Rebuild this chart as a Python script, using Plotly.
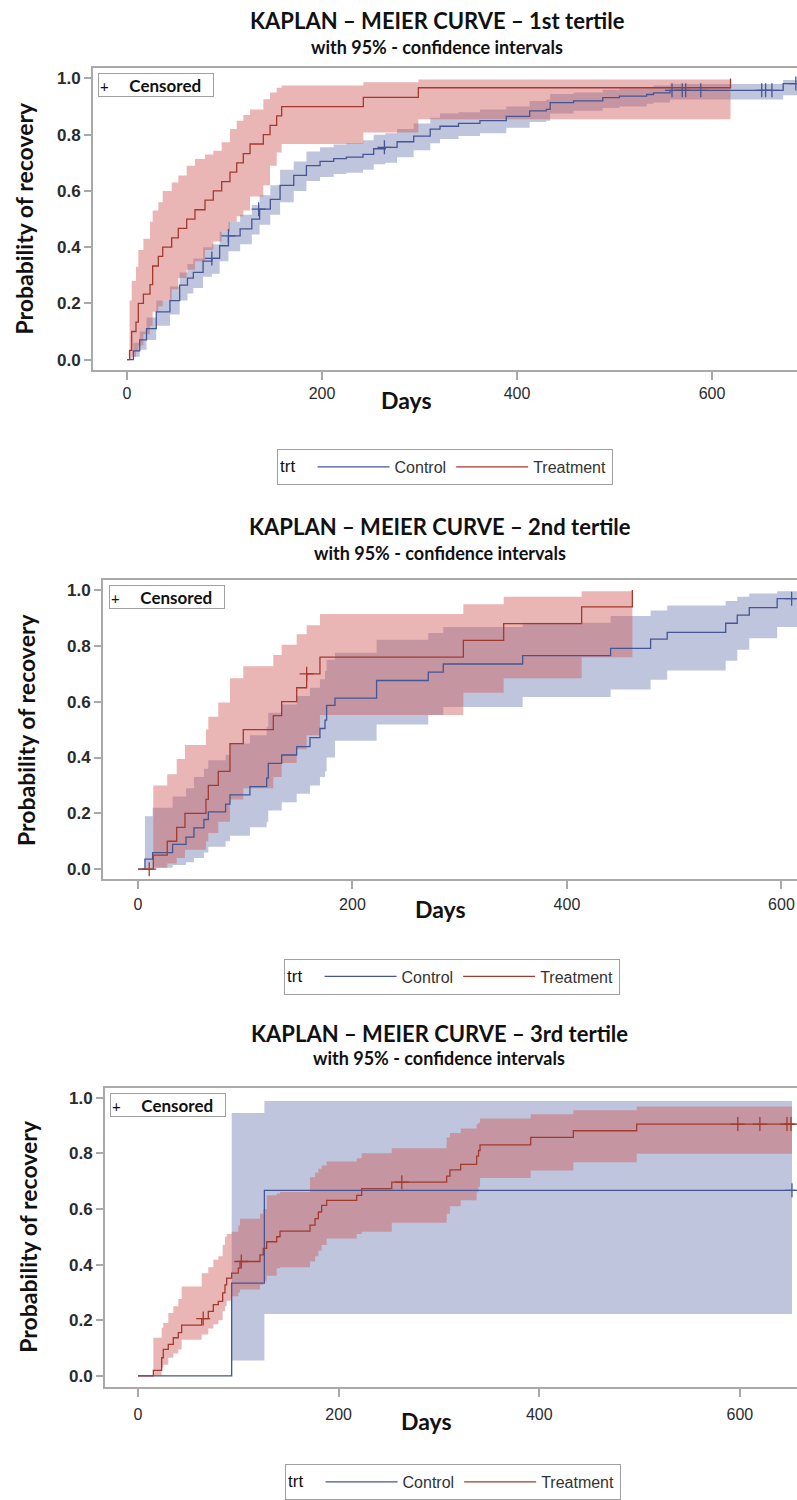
import plotly.graph_objects as go

W, H = 797, 1500

# ---------------- 1st tertile ----------------
t1_ctrl_time = [0, 6.5, 13, 20, 30, 44, 54, 62, 68, 78, 87, 95, 104, 116, 128, 136, 147, 157, 171, 184,
                198, 212, 225, 242, 253, 265, 277, 294, 311, 321, 340, 362, 389, 413, 430, 434, 458, 488,
                505, 533, 540, 557, 673, 690]
t1_ctrl_surv = [0, 0.031, 0.07, 0.11, 0.17, 0.21, 0.265, 0.29, 0.31, 0.35, 0.36, 0.405, 0.44, 0.465, 0.50,
                0.535, 0.57, 0.62, 0.655, 0.69, 0.705, 0.715, 0.72, 0.73, 0.75, 0.755, 0.775, 0.795, 0.82,
                0.83, 0.84, 0.85, 0.865, 0.885, 0.89, 0.914, 0.92, 0.932, 0.937, 0.943, 0.949, 0.958, 0.982,
                0.982]
t1_ctrl_lo = [0, 0.01, 0.035, 0.07, 0.12, 0.16, 0.21, 0.235, 0.255, 0.295, 0.305, 0.35, 0.385, 0.41, 0.445,
              0.48, 0.515, 0.56, 0.60, 0.635, 0.65, 0.66, 0.665, 0.675, 0.695, 0.70, 0.72, 0.745, 0.77, 0.785,
              0.795, 0.805, 0.825, 0.845, 0.85, 0.875, 0.885, 0.895, 0.90, 0.91, 0.915, 0.925, 0.94, 0.94]
t1_ctrl_hi = [0, 0.06, 0.10, 0.15, 0.21, 0.26, 0.31, 0.34, 0.36, 0.40, 0.41, 0.455, 0.49, 0.515, 0.55,
              0.585, 0.62, 0.675, 0.705, 0.74, 0.755, 0.765, 0.77, 0.78, 0.80, 0.805, 0.82, 0.84, 0.86, 0.875,
              0.88, 0.89, 0.90, 0.92, 0.925, 0.945, 0.95, 0.96, 0.965, 0.97, 0.975, 0.98, 0.995, 0.995]
t1_ctrl_cens_time = [87, 104, 135, 264, 559, 569.5, 573, 588.5, 651, 655, 661.5, 686]
t1_ctrl_cens_surv = [0.36, 0.44, 0.535, 0.755, 0.958, 0.958, 0.958, 0.958, 0.958, 0.958, 0.958, 0.982]

t1_trt_time = [0, 2.6, 4.8, 9.2, 11.6, 16.8, 23.6, 26.3, 32.1, 36.6, 45.8, 52.6, 61.2, 69.7, 80, 88.5, 97.1,
               105.6, 112.5, 119.3, 126.2, 139.8, 146.7, 153.5, 158.6, 242.4, 298.8, 619]
t1_trt_surv = [0, 0.033, 0.10, 0.133, 0.20, 0.233, 0.267, 0.333, 0.367, 0.40, 0.433, 0.467, 0.50, 0.533,
               0.567, 0.60, 0.633, 0.667, 0.70, 0.733, 0.767, 0.80, 0.833, 0.867, 0.90, 0.933, 0.967, 1.0]
t1_trt_band_time = [2.6, 4.8, 9.2, 11.6, 16.8, 23.6, 26.3, 32.1, 36.6, 45.8, 52.6, 61.2, 69.7, 80, 88.5, 97.1,
                    105.6, 112.5, 119.3, 126.2, 139.8, 146.7, 153.5, 158.6, 242.4, 298.8, 619]
t1_trt_lo = [0.0, 0.01, 0.03, 0.05, 0.09, 0.12, 0.17, 0.19, 0.21, 0.25, 0.29, 0.32, 0.35, 0.39, 0.42, 0.455,
             0.49, 0.51, 0.53, 0.58, 0.62, 0.69, 0.737, 0.767, 0.808, 0.855, 0.855]
t1_trt_hi = [0.21, 0.28, 0.33, 0.39, 0.43, 0.49, 0.53, 0.56, 0.60, 0.63, 0.655, 0.69, 0.714, 0.73, 0.743,
             0.773, 0.82, 0.85, 0.87, 0.89, 0.926, 0.95, 0.967, 0.975, 0.987, 0.996, 0.996]
t1_trt_cens_time = []
t1_trt_cens_surv = []

# ---------------- 2nd tertile ----------------
t2_ctrl_time = [0, 6.5, 13.7, 32.3, 44.8, 52.2, 61.5, 65.6, 81.7, 85.8, 104.4, 120, 121.5, 134, 148, 160.4,
                169.7, 174.4, 175.9, 183.7, 222.5, 270.7, 284.7, 358.7, 440.7, 478, 493.5, 548, 558.8, 570,
                596, 615]
t2_ctrl_surv = [0, 0.036, 0.059, 0.089, 0.115, 0.148, 0.178, 0.205, 0.233, 0.266, 0.296, 0.326, 0.379,
                0.409, 0.439, 0.471, 0.504, 0.534, 0.587, 0.613, 0.676, 0.706, 0.735, 0.765, 0.791, 0.824,
                0.848, 0.881, 0.910, 0.937, 0.969, 0.969]
t2_ctrl_band_time = [6.5, 13.7, 32.3, 44.8, 52.2, 61.5, 65.6, 81.7, 85.8, 104.4, 120, 121.5, 134, 148, 160.4,
                     169.7, 174.4, 175.9, 183.7, 222.5, 270.7, 284.7, 358.7, 440.7, 478, 493.5, 548, 558.8,
                     570, 596, 615]
t2_ctrl_lo = [0.0, 0.005, 0.015, 0.025, 0.04, 0.06, 0.08, 0.10, 0.12, 0.15, 0.17, 0.21, 0.24, 0.27, 0.30,
              0.33, 0.35, 0.40, 0.46, 0.518, 0.552, 0.581, 0.617, 0.644, 0.679, 0.712, 0.747, 0.786, 0.827,
              0.868, 0.868]
t2_ctrl_hi = [0.19, 0.22, 0.26, 0.29, 0.33, 0.36, 0.39, 0.41, 0.45, 0.48, 0.51, 0.56, 0.59, 0.62, 0.65,
              0.68, 0.71, 0.75, 0.775, 0.822, 0.846, 0.868, 0.883, 0.907, 0.927, 0.945, 0.961, 0.976, 0.988,
              0.996, 0.996]
t2_ctrl_cens_time = [609.5]
t2_ctrl_cens_surv = [0.969]

t2_trt_time = [0, 14.3, 27.3, 36.1, 43.8, 63.4, 65.6, 74.9, 85.8, 98.2, 126.2, 134, 148, 157.3, 169.7,
               303.4, 341, 413.7, 461]
t2_trt_surv = [0, 0.05, 0.10, 0.15, 0.20, 0.25, 0.30, 0.35, 0.45, 0.50, 0.55, 0.60, 0.65, 0.70, 0.76,
               0.82, 0.88, 0.94, 1.0]
t2_trt_band_time = [14.3, 27.3, 36.1, 43.8, 63.4, 65.6, 74.9, 85.8, 98.2, 126.2, 134, 148, 157.3, 169.7,
                    303.4, 341, 413.7, 461]
t2_trt_lo = [0.005, 0.02, 0.04, 0.07, 0.10, 0.13, 0.17, 0.25, 0.29, 0.33, 0.38, 0.43, 0.48, 0.552, 0.632,
             0.684, 0.759, 0.759]
t2_trt_hi = [0.30, 0.34, 0.395, 0.445, 0.50, 0.546, 0.597, 0.684, 0.727, 0.767, 0.804, 0.842, 0.874, 0.914,
             0.949, 0.976, 0.996, 0.996]
t2_trt_cens_time = [10.5, 157.3]
t2_trt_cens_surv = [0.0, 0.70]

# ---------------- 3rd tertile ----------------
t3_ctrl_time = [0, 93.4, 126, 660]
t3_ctrl_surv = [0, 0.333, 0.667, 0.667]
t3_ctrl_band_time = [93.4, 126, 652]
t3_ctrl_lo = [0.055, 0.222, 0.222]
t3_ctrl_hi = [0.945, 0.988, 0.988]
t3_ctrl_cens_time = [652]
t3_ctrl_cens_surv = [0.667]

t3_trt_time = [0, 15.3, 23.6, 25.2, 30.2, 35.2, 40.2, 43.5, 63.5, 70.1, 75.1, 80.1, 84.4, 86.7, 88.4, 93.4,
               100, 101.7, 121.6, 124.9, 128.3, 138.3, 141.6, 171.5, 176.5, 179.8, 183.1, 188.1, 218, 223,
               253, 307.7, 311, 321.7, 337.6, 339.5, 341, 391.5, 434, 497.2, 656]
t3_trt_surv = [0, 0.02, 0.065, 0.095, 0.113, 0.137, 0.155, 0.182, 0.206, 0.232, 0.256, 0.268, 0.298, 0.327,
               0.351, 0.369, 0.387, 0.411, 0.435, 0.458, 0.482, 0.50, 0.52, 0.542, 0.565, 0.589, 0.613,
               0.631, 0.649, 0.673, 0.696, 0.718, 0.74, 0.76, 0.79, 0.81, 0.83, 0.857, 0.881, 0.905, 0.905]
t3_trt_band_time = [15.3, 23.6, 25.2, 30.2, 35.2, 40.2, 43.5, 63.5, 70.1, 75.1, 80.1, 84.4, 86.7, 88.4,
                    93.4, 100, 101.7, 121.6, 124.9, 128.3, 138.3, 141.6, 171.5, 176.5, 179.8, 183.1, 188.1,
                    218, 223, 253, 307.7, 311, 321.7, 337.6, 339.5, 341, 391.5, 434, 497.2, 652]
t3_trt_lo = [0.0, 0.03, 0.04, 0.065, 0.08, 0.095, 0.13, 0.149, 0.17, 0.185, 0.20, 0.232, 0.25, 0.27, 0.286,
             0.30, 0.31, 0.327, 0.34, 0.36, 0.387, 0.39, 0.411, 0.43, 0.45, 0.47, 0.494, 0.51, 0.518, 0.55,
             0.583, 0.61, 0.631, 0.66, 0.68, 0.711, 0.738, 0.768, 0.798, 0.798]
t3_trt_hi = [0.137, 0.173, 0.19, 0.226, 0.25, 0.276, 0.321, 0.369, 0.39, 0.417, 0.43, 0.47, 0.50, 0.51,
             0.518, 0.54, 0.565, 0.583, 0.60, 0.649, 0.655, 0.661, 0.714, 0.73, 0.744, 0.756, 0.77, 0.782,
             0.80, 0.818, 0.857, 0.873, 0.889, 0.905, 0.911, 0.925, 0.940, 0.955, 0.968, 0.968]
t3_trt_cens_time = [65, 103, 263, 598, 620, 647, 651]
t3_trt_cens_surv = [0.206, 0.411, 0.696, 0.905, 0.905, 0.905, 0.905]

panel_titles = ["KAPLAN \u2013 MEIER CURVE \u2013 1st tertile",
                "KAPLAN \u2013 MEIER CURVE \u2013 2nd tertile",
                "KAPLAN \u2013 MEIER CURVE \u2013 3rd tertile"]
subtitle = "with 95% - confidence intervals"
group_names = ["Control", "Treatment"]
y_ticks = [0.0, 0.2, 0.4, 0.6, 0.8, 1.0]
x_ticks = [0, 200, 400, 600]

BLUE = "#445694"
RED = "#A23A2E"
BLUE_FILL = "rgba(111,126,179,0.45)"
RED_FILL = "rgba(208,91,91,0.45)"
FRAME = "#A9A9A9"
TXT = "#2b2b2b"
TITLE_FONT = "Lato"
TICK_FONT = "Liberation Sans"
NB = "\u00a0"


def fx(px):
    return px / W


def fy(py):
    return 1 - py / H


# pixel layout of each panel: plot box, axis ranges, text positions
layout_px = [
    dict(box=(93, 68, 372), xr=(-34.9, 687.2), yr=(-0.0353, 1.0389), xstand=0,
         title=(437, 21), sub=(437, 47), days=(407, 403), ylab=(24, 220),
         leg=(277, 452), cens=(98, 73)),
    dict(box=(103, 584, 885), xr=(-32.6, 614.5), yr=(-0.0356, 1.0356), xstand=2,
         title=(440, 530), sub=(440, 557), days=(440, 915), ylab=(26, 735),
         leg=(284, 965), cens=(109, 589)),
    dict(box=(105, 1095, 1396), xr=(-32.9, 657.0), yr=(-0.039, 1.0357), xstand=4,
         title=(439, 1040), sub=(439, 1065), days=(426, 1431), ylab=(28, 1245),
         leg=(285, 1474), cens=(110, 1100)),
]

data = [
    dict(ct=t1_ctrl_time, cs=t1_ctrl_surv, cbt=t1_ctrl_time, clo=t1_ctrl_lo, chi=t1_ctrl_hi,
         cct=t1_ctrl_cens_time, ccs=t1_ctrl_cens_surv,
         tt=t1_trt_time, ts=t1_trt_surv, tbt=t1_trt_band_time, tlo=t1_trt_lo, thi=t1_trt_hi,
         tct=t1_trt_cens_time, tcs=t1_trt_cens_surv),
    dict(ct=t2_ctrl_time, cs=t2_ctrl_surv, cbt=t2_ctrl_band_time, clo=t2_ctrl_lo, chi=t2_ctrl_hi,
         cct=t2_ctrl_cens_time, ccs=t2_ctrl_cens_surv,
         tt=t2_trt_time, ts=t2_trt_surv, tbt=t2_trt_band_time, tlo=t2_trt_lo, thi=t2_trt_hi,
         tct=t2_trt_cens_time, tcs=t2_trt_cens_surv),
    dict(ct=t3_ctrl_time, cs=t3_ctrl_surv, cbt=t3_ctrl_band_time, clo=t3_ctrl_lo, chi=t3_ctrl_hi,
         cct=t3_ctrl_cens_time, ccs=t3_ctrl_cens_surv,
         tt=t3_trt_time, ts=t3_trt_surv, tbt=t3_trt_band_time, tlo=t3_trt_lo, thi=t3_trt_hi,
         tct=t3_trt_cens_time, tcs=t3_trt_cens_surv),
]

fig = go.Figure()
annotations = []
layout_extra = {}

for i, (d, p) in enumerate(zip(data, layout_px)):
    n = i + 1
    xa = "x" if n == 1 else f"x{n}"
    ya = "y" if n == 1 else f"y{n}"
    leg_main = "legend" if n == 1 else f"legend{n}"
    common = dict(xaxis=xa, yaxis=ya, legend=leg_main)

    # confidence bands (step shaped)
    for bt, lo, hi, fill in ((d["cbt"], d["clo"], d["chi"], BLUE_FILL),
                             (d["tbt"], d["tlo"], d["thi"], RED_FILL)):
        fig.add_trace(go.Scatter(x=bt, y=lo, mode="lines", line=dict(width=0, shape="hv"),
                                 showlegend=False, hoverinfo="skip", **common))
        fig.add_trace(go.Scatter(x=bt, y=hi, mode="lines", line=dict(width=0, shape="hv"),
                                 fill="tonexty", fillcolor=fill, showlegend=False,
                                 hoverinfo="skip", **common))

    # Kaplan-Meier step curves
    fig.add_trace(go.Scatter(x=d["ct"], y=d["cs"], mode="lines", name=group_names[0],
                             line=dict(color=BLUE, width=1.3, shape="hv"), **common))
    fig.add_trace(go.Scatter(x=d["tt"], y=d["ts"], mode="lines", name=group_names[1],
                             line=dict(color=RED, width=1.3, shape="hv"), **common))

    # censored observations
    for ctime, csurv, col in ((d["cct"], d["ccs"], BLUE), (d["tct"], d["tcs"], RED)):
        if ctime:
            fig.add_trace(go.Scatter(x=ctime, y=csurv, mode="markers", showlegend=False,
                                     marker=dict(symbol="cross-thin", size=10,
                                                 line=dict(color=col, width=1.3)),
                                     **common))

    left, top, bottom = p["box"]
    layout_extra[("xaxis" if n == 1 else f"xaxis{n}")] = dict(
        domain=[fx(left), 1.0], range=list(p["xr"]), anchor=ya,
        tickvals=x_ticks, ticks="outside", ticklen=8, tickwidth=1.5, tickcolor=FRAME,
        ticklabelstandoff=p["xstand"],
        showline=True, linecolor=FRAME, linewidth=2, mirror=True,
        showgrid=False, zeroline=False,
        tickfont=dict(family=TICK_FONT, size=16, color=TXT))
    layout_extra[("yaxis" if n == 1 else f"yaxis{n}")] = dict(
        domain=[fy(bottom), fy(top)], range=list(p["yr"]), anchor=xa,
        tickvals=y_ticks, tickformat=".1f", ticks="outside", ticklen=7, tickwidth=1.5,
        tickcolor=FRAME, showline=True, linecolor=FRAME, linewidth=2, mirror=False,
        showgrid=False, zeroline=False,
        tickfont=dict(family=TICK_FONT, size=17, color=TXT, weight="bold"))

    lx, ly = p["leg"]
    layout_extra[leg_main] = dict(
        x=fx(lx), y=fy(ly), xanchor="left", yanchor="top", orientation="h",
        traceorder="normal",
        title=dict(text="trt" + NB * 2, side="left", font=dict(family=TICK_FONT, size=17, color="#111")),
        bordercolor="#A0A0A0", borderwidth=1, bgcolor="white", itemwidth=72,
        font=dict(family=TICK_FONT, size=16, color="#333"))

    # "Censored" key box in the upper-left corner of the plot
    cx, cy = p["cens"]
    annotations.append(dict(
        text=f'<span style="font-weight:normal;font-size:15px">+</span>{NB * 5}Censored',
        x=fx(cx), y=fy(cy), xref="paper", yref="paper", xanchor="left", yanchor="top",
        showarrow=False, align="left", width=112, height=20,
        bordercolor="#A0A0A0", borderwidth=1, borderpad=1, bgcolor="white",
        font=dict(family=TITLE_FONT, size=17, color="#111", weight="bold")))

    tx, ty = p["title"]
    annotations.append(dict(text=panel_titles[i], x=fx(tx), y=fy(ty), xref="paper", yref="paper",
                            xanchor="center", yanchor="middle", showarrow=False,
                            font=dict(family=TITLE_FONT, size=22, color="#111", weight="bold")))
    sx, sy = p["sub"]
    annotations.append(dict(text=subtitle, x=fx(sx), y=fy(sy), xref="paper", yref="paper",
                            xanchor="center", yanchor="middle", showarrow=False,
                            font=dict(family=TITLE_FONT, size=18, color="#111", weight="bold")))
    dx, dy = p["days"]
    annotations.append(dict(text="Days", x=fx(dx), y=fy(dy), xref="paper", yref="paper",
                            xanchor="center", yanchor="middle", showarrow=False,
                            font=dict(family=TITLE_FONT, size=23, color="#111", weight="bold")))
    yx, yy = p["ylab"]
    annotations.append(dict(text="Probability of recovery", x=fx(yx), y=fy(yy), xref="paper",
                            yref="paper", xanchor="center", yanchor="middle", showarrow=False,
                            textangle=-90,
                            font=dict(family=TITLE_FONT, size=23, color="#111", weight="bold")))

fig.update_layout(
    width=W, height=H, margin=dict(l=0, r=0, t=0, b=0),
    paper_bgcolor="white", plot_bgcolor="white",
    annotations=annotations, **layout_extra)

fig.write_html("out.html")
